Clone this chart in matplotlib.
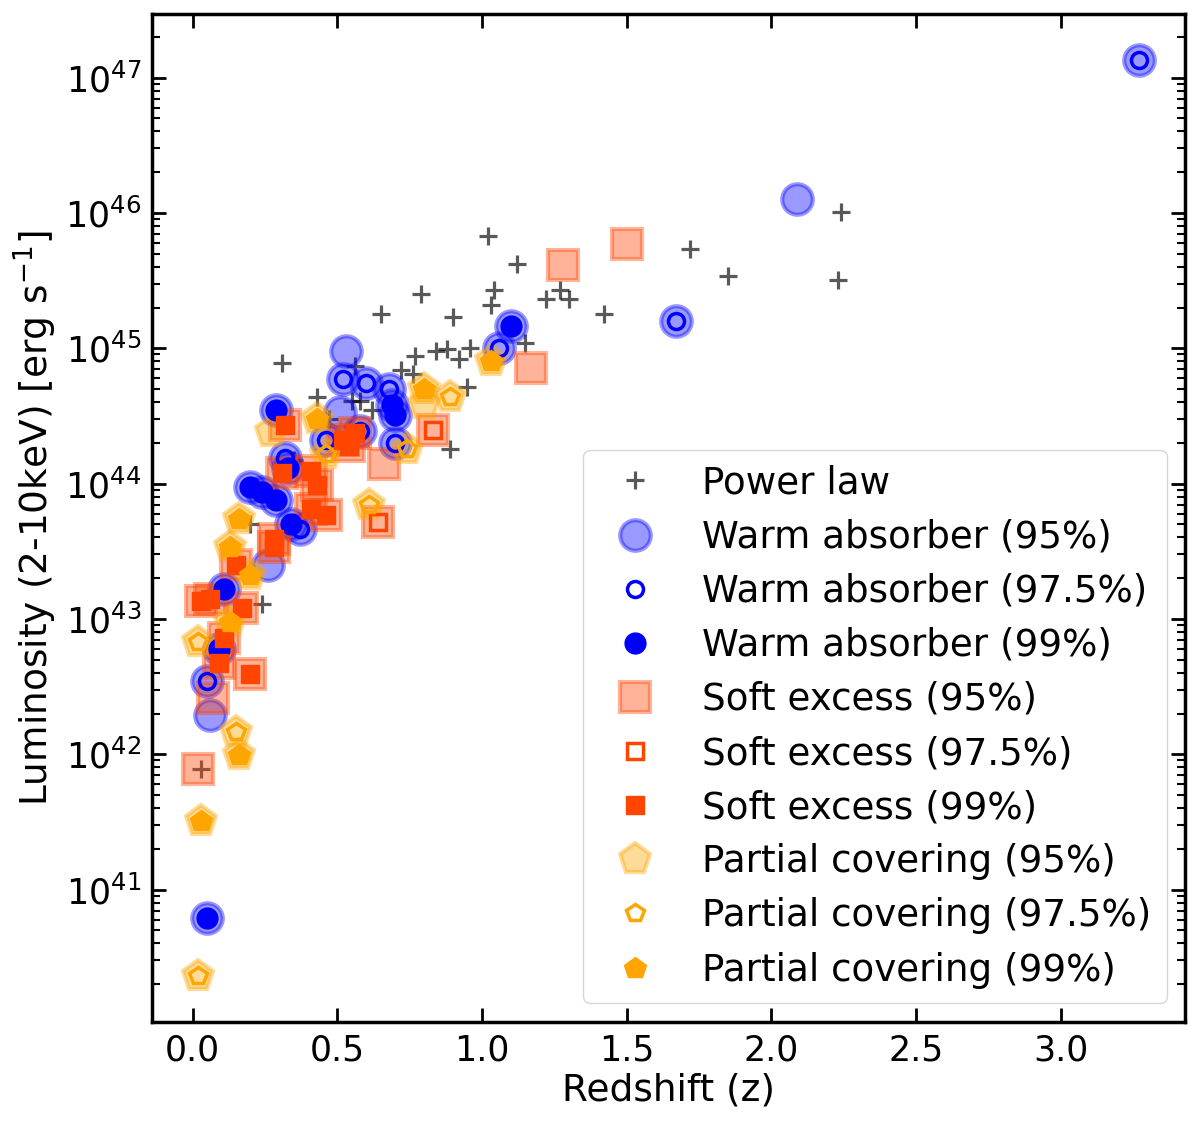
import numpy as np
import matplotlib
matplotlib.use('Agg')
from matplotlib import pyplot as plt
from matplotlib.ticker import NullFormatter

#####################################
# Data (redshift, 2-10 keV luminosity)
pl_z = [1.02, 1.12, 0.79, 0.65, 0.90, 1.04, 1.03, 1.22, 1.27, 1.30, 1.42, 1.72,
        1.85, 1.15, 0.77, 0.84, 0.88, 0.92, 0.96, 0.95, 0.72, 0.76, 0.56, 0.43,
        0.89, 0.58, 0.55, 2.24, 2.23, 0.31, 0.24, 0.03, 0.35, 0.20, 0.47, 0.62]
pl_L = [6.8e45, 4.2e45, 2.5e45, 1.8e45, 1.7e45, 2.7e45, 2.1e45, 2.3e45, 2.7e45,
        2.3e45, 1.8e45, 5.4e45, 3.4e45, 1.1e45, 8.7e44, 9.5e44, 9.8e44, 8.3e44,
        1.0e45, 5.2e44, 6.9e44, 6.5e44, 7.4e44, 4.4e44, 1.8e44, 4.1e44, 4.1e44,
        1.02e46, 3.2e45, 7.8e44, 1.3e43, 7.8e41, 1.5e44, 5.0e43, 3.0e44, 3.5e44]

wa95_z = [2.09, 0.53, 0.06, 0.51, 0.26]
wa95_L = [1.26e46, 9.5e44, 1.95e42, 3.4e44, 2.5e43]
wa975_z = [3.27, 1.67, 1.06, 0.52, 0.60, 0.68, 0.70, 0.58, 0.46, 0.05, 0.37, 0.32]
wa975_L = [1.35e47, 1.6e45, 1.0e45, 5.9e44, 5.5e44, 5.0e44, 2.0e44, 2.45e44,
           2.1e44, 3.5e42, 4.6e43, 1.55e44]
wa99_z = [1.10, 0.70, 0.69, 0.29, 0.33, 0.20, 0.24, 0.29, 0.11, 0.05, 0.09, 0.34]
wa99_L = [1.45e45, 3.2e44, 3.8e44, 3.5e44, 1.3e44, 9.5e43, 8.7e43, 7.6e43,
          1.66e43, 6.2e40, 6.0e42, 5.0e43]

se95_z = [1.28, 1.50, 1.17, 0.66, 0.02, 0.07]
se95_L = [4.1e45, 5.9e45, 7.1e44, 1.4e44, 7.8e41, 2.6e42]
se975_z = [0.83, 0.64]
se975_L = [2.5e44, 5.2e43]
se99_z = [0.32, 0.52, 0.54, 0.41, 0.43, 0.41, 0.46, 0.28, 0.28, 0.15, 0.06,
          0.17, 0.11, 0.09, 0.20, 0.56, 0.31, 0.03]
se99_L = [2.7e44, 2.1e44, 1.9e44, 1.23e44, 9.8e43, 6.5e43, 5.9e43, 3.9e43,
          3.4e43, 2.5e43, 1.4e43, 1.2e43, 7.2e42, 4.7e42, 3.9e42, 2.35e44,
          1.2e44, 1.35e43]

pc95_z = [0.27, 0.80]
pc95_L = [2.4e44, 3.9e44]
pc975_z = [0.89, 0.61, 0.15, 0.02, 0.02, 0.74, 0.46]
pc975_L = [4.4e44, 6.9e43, 1.45e42, 2.3e40, 6.8e42, 1.8e44, 1.66e44]
pc99_z = [1.03, 0.80, 0.43, 0.16, 0.13, 0.20, 0.13, 0.16, 0.03]
pc99_L = [8.1e44, 5.0e44, 3.0e44, 5.5e43, 3.4e43, 2.1e43, 9.5e42, 9.8e41, 3.2e41]
#####################################


#####################################
# Figure
fig = plt.figure(figsize=(12, 11.23), dpi=100)
ax = fig.add_axes([0.1267, 0.0899, 0.861, 0.8976])
ax.set_yscale('log')
#####################################

models = [
    # name, colour, marker, (z95, L95), (z975, L975), (z99, L99), sizes
    ('Warm absorber', 'blue', 'o', (wa95_z, wa95_L), (wa975_z, wa975_L),
     (wa99_z, wa99_L), (22, 11.5, 15)),
    ('Soft excess', 'orangered', 's', (se95_z, se95_L), (se975_z, se975_L),
     (se99_z, se99_L), (21.5, 12, 13.5)),
    ('Partial covering', 'orange', 'p', (pc95_z, pc95_L), (pc975_z, pc975_L),
     (pc99_z, pc99_L), (23, 13, 16)),
]

h_pl, = ax.plot(pl_z, pl_L, ls='none', marker='+', ms=13, mew=2.3,
                color='k', alpha=0.65, label='Power law')

handles = {}
# 95% halo for every source of the model
for name, c, m, d95, d975, d99, sz in models:
    z_all = d95[0] + d975[0] + d99[0]
    L_all = d95[1] + d975[1] + d99[1]
    h, = ax.plot(z_all, L_all, ls='none', marker=m, ms=sz[0], mew=3,
                 color=c, alpha=0.4, label=name + ' (95%)')
    handles[name, 95] = h

# 97.5% open markers
for name, c, m, d95, d975, d99, sz in models:
    h, = ax.plot(d975[0], d975[1], ls='none', marker=m, ms=sz[1], mew=2.5,
                 mfc='none', mec=c, label=name + ' (97.5%)')
    handles[name, 97.5] = h

# 99% filled markers
for name, c, m, d95, d975, d99, sz in models:
    h, = ax.plot(d99[0], d99[1], ls='none', marker=m, ms=sz[2], mew=1,
                 color=c, label=name + ' (99%)')
    handles[name, 99] = h

order = [h_pl]
for name in ['Warm absorber', 'Soft excess', 'Partial covering']:
    for lev in [95, 97.5, 99]:
        order.append(handles[name, lev])

ax.set_xlim(-0.14, 3.43)
ax.set_ylim(1.05e40, 2.95e47)
ax.yaxis.set_minor_formatter(NullFormatter())

ax.set_xlabel('Redshift (z)', fontsize=27)
ax.set_ylabel('Luminosity (2-10keV) [erg s$^{-1}$]', fontsize=27)

ax.tick_params(which='both', direction='in', top=True, right=True)
ax.tick_params(which='major', length=10, width=2, labelsize=25, pad=8)
ax.tick_params(which='minor', length=6, width=1.5)
for sp in ax.spines.values():
    sp.set_linewidth(2.5)

leg = ax.legend(handles=order, loc='lower right', fontsize=26.8, numpoints=1,
                labelspacing=0.46)

fig.savefig('out.png', dpi=100)
